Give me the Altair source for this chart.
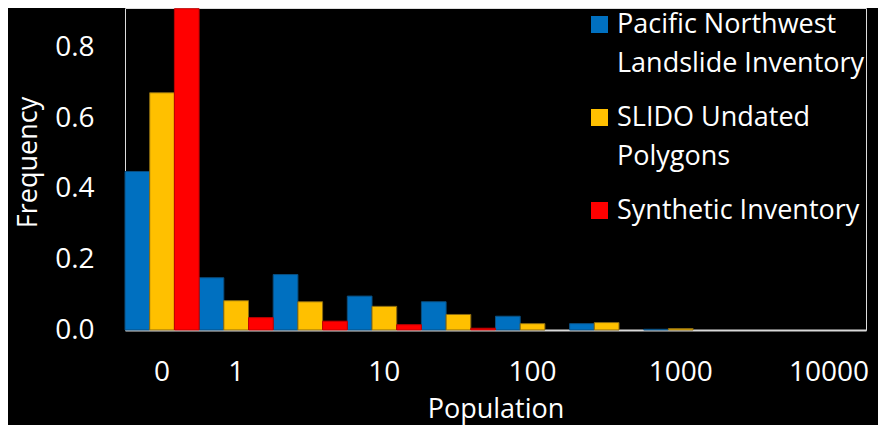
import altair as alt
import pandas as pd

bins = ["b0", "b1", "b2", "b3", "b4", "b5", "b6", "b7", "b8", "b9"]
tick_labels = ["0", "1", "", "10", "", "100", "", "1000", "", "10000"]

series = ["Pacific Northwest Landslide Inventory", "SLIDO Undated Polygons", "Synthetic Inventory"]
legend_lines = [["Pacific Northwest", "Landslide Inventory"], ["SLIDO Undated", "Polygons"], ["Synthetic Inventory"]]
colors = ["#0070C0", "#FFC000", "#FF0000"]
edge_colors = ["#0a4f80", "#8a6a10", "#c00000"]

pnw = [0.449, 0.148, 0.157, 0.096, 0.080, 0.039, 0.018, 0.002, 0.0, 0.0]
slido = [0.672, 0.083, 0.080, 0.067, 0.044, 0.018, 0.021, 0.004, 0.0, 0.0]
synthetic = [0.910, 0.035, 0.025, 0.015, 0.005, 0.0, 0.0, 0.0, 0.0, 0.0]

rows = []
for name, vals in zip(series, [pnw, slido, synthetic]):
    for b, v in zip(bins, vals):
        rows.append({"bin": b, "series": name, "freq": v})
df = pd.DataFrame(rows)

x_label_expr = " : ".join(
    [f"datum.value == '{b}' ? '{t}'" for b, t in zip(bins, tick_labels)] + ["''"]
)


def js_list(lines):
    return "[" + ",".join(f"'{l}'" for l in lines) + "]"


legend_label_expr = " : ".join(
    [f"datum.label == '{s}' ? {js_list(l)}" for s, l in zip(series, legend_lines)] + ["datum.label"]
)

FONT = "Open Sans"

chart = (
    alt.Chart(df)
    .transform_filter("datum.freq > 0")
    .mark_bar(strokeWidth=1)
    .encode(
        x=alt.X(
            "bin:N",
            sort=bins,
            scale=alt.Scale(domain=bins, paddingInner=0, paddingOuter=0),
            axis=alt.Axis(
                title="Population",
                labelExpr=x_label_expr,
                labelAngle=0,
                ticks=False,
                tickSize=0,
                labelPadding=28,
                labelFontSize=28,
                labelColor="white",
                labelFont=FONT,
                domainColor="#D9D9D9",
                domainWidth=2,
                titleFontSize=27,
                titleFont=FONT,
                titleColor="white",
                titleFontWeight="normal",
                titleY=87,
                titleBaseline="alphabetic",
            ),
        ),
        xOffset=alt.XOffset("series:N", sort=series, scale=alt.Scale(domain=series, paddingInner=0, paddingOuter=0)),
        y=alt.Y(
            "freq:Q",
            scale=alt.Scale(domain=[0, 0.912], nice=False),
            axis=alt.Axis(
                title="Frequency",
                values=[0, 0.2, 0.4, 0.6, 0.8],
                format=".1f",
                grid=False,
                domain=False,
                ticks=False,
                tickSize=0,
                labelPadding=31,
                labelFontSize=28,
                labelColor="white",
                labelFont=FONT,
                titleFontSize=27,
                titleFont=FONT,
                titleColor="white",
                titleFontWeight="normal",
                titleX=-83,
                titleY=154,
            ),
        ),
        color=alt.Color(
            "series:N",
            sort=series,
            scale=alt.Scale(domain=series, range=colors),
            legend=alt.Legend(
                title=None,
                orient="none",
                legendX=461,
                legendY=3,
                symbolType="square",
                symbolSize=290,
                symbolStrokeWidth=0,
                labelFontSize=27,
                labelFont=FONT,
                labelColor="white",
                labelExpr=legend_label_expr,
                labelLimit=400,
                labelOffset=4,
                rowPadding=26,
            ),
        ),
        stroke=alt.Stroke(
            "series:N",
            sort=series,
            scale=alt.Scale(domain=series, range=edge_colors),
            legend=None,
        ),
    )
    .properties(
        width=741,
        height=322,
        padding={"left": 117, "top": 0, "right": 12, "bottom": 95},
        autosize=alt.AutoSizeParams(type="none"),
        background="black",
    )
    .configure_view(stroke=None)
    .configure(style={"guide-label": {"lineHeight": 39}})
)

chart.save("out.html", embed_options={"renderer": "svg", "actions": False})
